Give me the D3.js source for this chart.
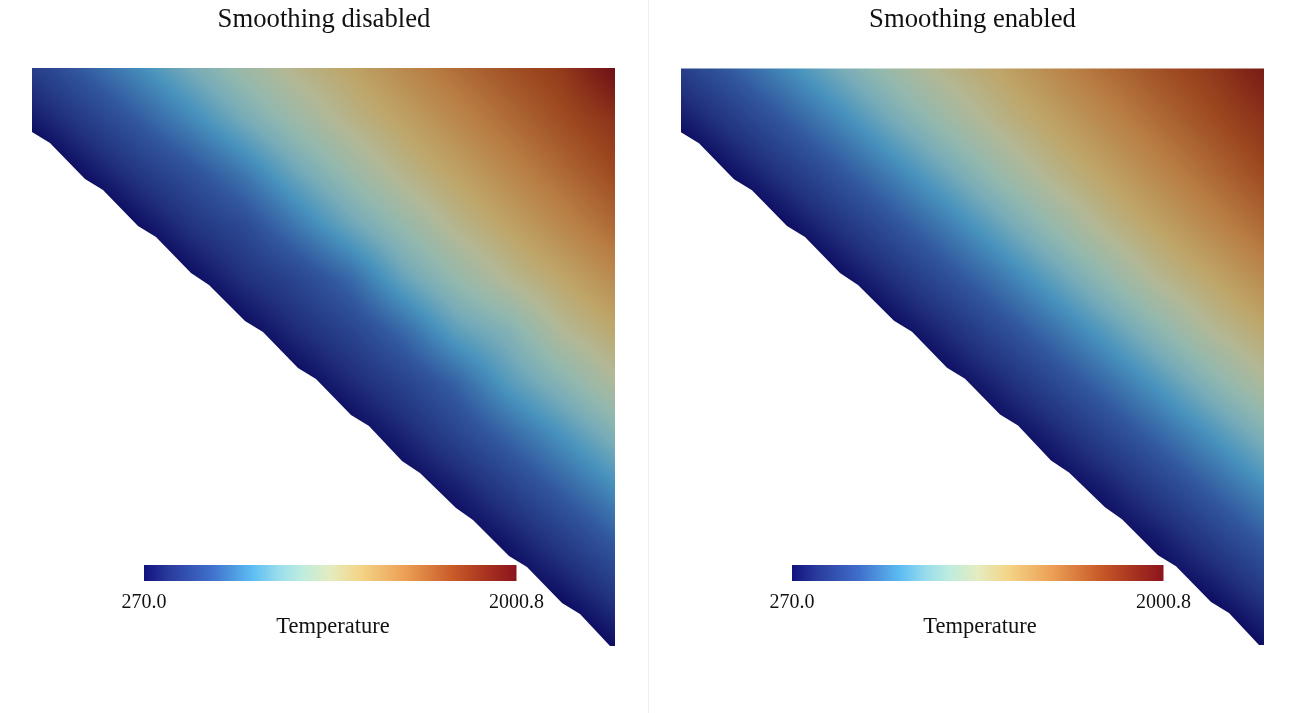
<!DOCTYPE html>
<html><head><meta charset="utf-8">
<script src="https://cdn.jsdelivr.net/npm/d3@7"></script>
<style>
html,body{margin:0;padding:0;background:#fff;overflow:hidden}
#wrap{position:relative;width:1296px;height:713px}
canvas,svg{position:absolute;left:0;top:0}
text{font-family:"Liberation Serif",serif;fill:#111}
</style></head><body><div id="wrap"><canvas id="c" width="1296" height="713"></canvas><svg id="s" width="1296" height="713"></svg></div>
<script>
const titles = ["Smoothing disabled","Smoothing enabled"];
const legendTitle = "Temperature";
const tempMin = 270.0, tempMax = 2000.8;
const colorPositions = [0,0.07,0.18,0.29,0.36,0.42,0.5,0.58,0.7,0.83,0.92,1];
const colorStops = ["#12127e","#2a3d9e","#3f6fcb","#5cbcf3","#98dcec","#bcecdf","#e4ecc0","#f4d588","#eca055","#c85a28","#a8321f","#8c141e"];
const litFactor = 0.78;
const meshColumns = [0,53,106,159,212,265,318,371,424,477,530,583];
const meshRows = [0,52.5,105,157.5,210,262.5,315,367.5,420,472.5,525,577.5];
const outline = [[0,0],[583,0],[583,578],[578,578],[548,546],[530,535],[495,499],[477,488],[441,452],[424,440],[388,405],[370,393],[337,358],[319,347],[284,311],[266,300],[231,264],[213,253],[177,217],[159,205],[124,169],[106,158],[71,122],[53,111],[18,75],[0,64]];
// nodes outside the outline hold values below the range; they are clipped away
const smoothT = [
[464,607,749,897,1044,1175,1284,1418,1546,1662,1769,1932],
[305,448,590,734,888,1037,1177,1296,1424,1553,1677,1802],
[144,287,429,571,715,867,1025,1172,1296,1428,1561,1694],
[100,128,270,412,556,697,852,1011,1165,1293,1428,1565],
[100,100,120,260,396,540,682,833,993,1153,1276,1412],
[100,100,100,110,245,377,521,663,812,971,1132,1260],
[100,100,100,100,100,235,362,504,647,794,954,1113],
[100,100,100,100,100,100,225,346,488,630,775,928],
[100,100,100,100,100,100,100,215,327,469,613,755],
[100,100,100,100,100,100,100,100,205,310,453,595],
[100,100,100,100,100,100,100,100,100,195,294,436],
[100,100,100,100,100,100,100,100,100,100,130,273]];
const roughT = [
[464,607,749,897,1044,1175,1284,1418,1546,1662,1769,2001],
[305,448,590,734,888,1037,1177,1296,1424,1553,1677,1802],
[144,287,429,550,690,867,1025,1172,1296,1428,1561,1694],
[100,128,270,412,520,690,860,1011,1165,1293,1428,1565],
[100,100,120,260,396,500,640,850,1010,1153,1276,1412],
[100,100,100,110,245,377,490,640,830,940,1132,1260],
[100,100,100,100,100,235,362,480,620,810,954,1113],
[100,100,100,100,100,100,225,346,488,630,775,928],
[100,100,100,100,100,100,100,215,327,469,613,755],
[100,100,100,100,100,100,100,100,205,310,453,595],
[100,100,100,100,100,100,100,100,100,195,294,436],
[100,100,100,100,100,100,100,100,100,100,130,273]];

const panels = [
 {title:titles[0],grid:roughT,xr:[32,615],yr:[68,646],bar:[144,516.5],tc:324,lc:333},
 {title:titles[1],grid:smoothT,xr:[681,1264],yr:[68.5,645],bar:[792,1163.5],tc:972.5,lc:980}
];
const colorFrac = d3.scaleLinear().domain([tempMin,tempMax]).range([0,1]).clamp(true);
const colorScale = d3.scaleLinear().domain(colorPositions).range(colorStops).interpolate(d3.interpolateRgb).clamp(true);
const ctx = document.getElementById("c").getContext("2d");
ctx.fillStyle="#fff";ctx.fillRect(0,0,1296,713);
const svg = d3.select("#s");
svg.append("line").attr("x1",648.5).attr("x2",648.5).attr("y1",0).attr("y2",713).attr("stroke","#eeeeee");
const defs = svg.append("defs");
const grad = defs.append("linearGradient").attr("id","cb");
grad.selectAll("stop").data(colorPositions).join("stop")
  .attr("offset",d=>d).attr("stop-color",(d,i)=>colorStops[i]);

const lut = d3.range(1025).map(i=>{const c=d3.rgb(colorScale(i/1024));return [c.r*litFactor,c.g*litFactor,c.b*litFactor];});
panels.forEach(p=>{
  const x=d3.scaleLinear().domain([0,583]).range(p.xr), y=d3.scaleLinear().domain([0,578]).range(p.yr);
  const W=Math.ceil(p.xr[1]-p.xr[0])+2,H=Math.ceil(p.yr[1]-p.yr[0])+2;
  const x0=Math.floor(p.xr[0]),y0=Math.floor(p.yr[0]);
  const off=document.createElement("canvas");off.width=W;off.height=H;
  const oc=off.getContext("2d"),img=oc.createImageData(W,H);
  const colIdx=d3.scaleLinear().domain(meshColumns).range(d3.range(meshColumns.length)).clamp(true);
  const rowIdx=d3.scaleLinear().domain(meshRows).range(d3.range(meshRows.length)).clamp(true);
  for(let py=0;py<H;py++){
    const r=rowIdx(y.invert(y0+py+.5)),j=Math.min(10,Math.floor(r)),v=r-j;
    for(let px=0;px<W;px++){
      const q=colIdx(x.invert(x0+px+.5)),i=Math.min(10,Math.floor(q)),u=q-i,g=p.grid;
      const T=(1-v)*((1-u)*g[j][i]+u*g[j][i+1])+v*((1-u)*g[j+1][i]+u*g[j+1][i+1]);
      const c=lut[Math.round(colorFrac(T)*1024)],k=(py*W+px)*4;
      img.data[k]=c[0];img.data[k+1]=c[1];img.data[k+2]=c[2];img.data[k+3]=255;
    }
  }
  oc.putImageData(img,0,0);
  ctx.save();ctx.beginPath();
  d3.line().x(d=>x(d[0])).y(d=>y(d[1])).context(ctx)(outline);
  ctx.closePath();ctx.clip();ctx.drawImage(off,x0,y0);ctx.restore();

  const bar=d3.scaleLinear().domain([tempMin,tempMax]).range(p.bar);
  svg.append("rect").attr("x",bar(tempMin)).attr("y",565).attr("width",bar(tempMax)-bar(tempMin)).attr("height",16).attr("fill","url(#cb)");
  svg.append("text").attr("x",p.tc).attr("y",27).attr("text-anchor","middle").attr("font-size",26.7).text(p.title);
  svg.selectAll(null).data([tempMin,tempMax]).join("text").attr("x",d=>bar(d)).attr("y",608)
     .attr("text-anchor","middle").attr("font-size",20).text(d=>d.toFixed(1));
  svg.append("text").attr("x",p.lc).attr("y",633).attr("text-anchor","middle").attr("font-size",22.5).text(legendTitle);
});
</script></body></html>
